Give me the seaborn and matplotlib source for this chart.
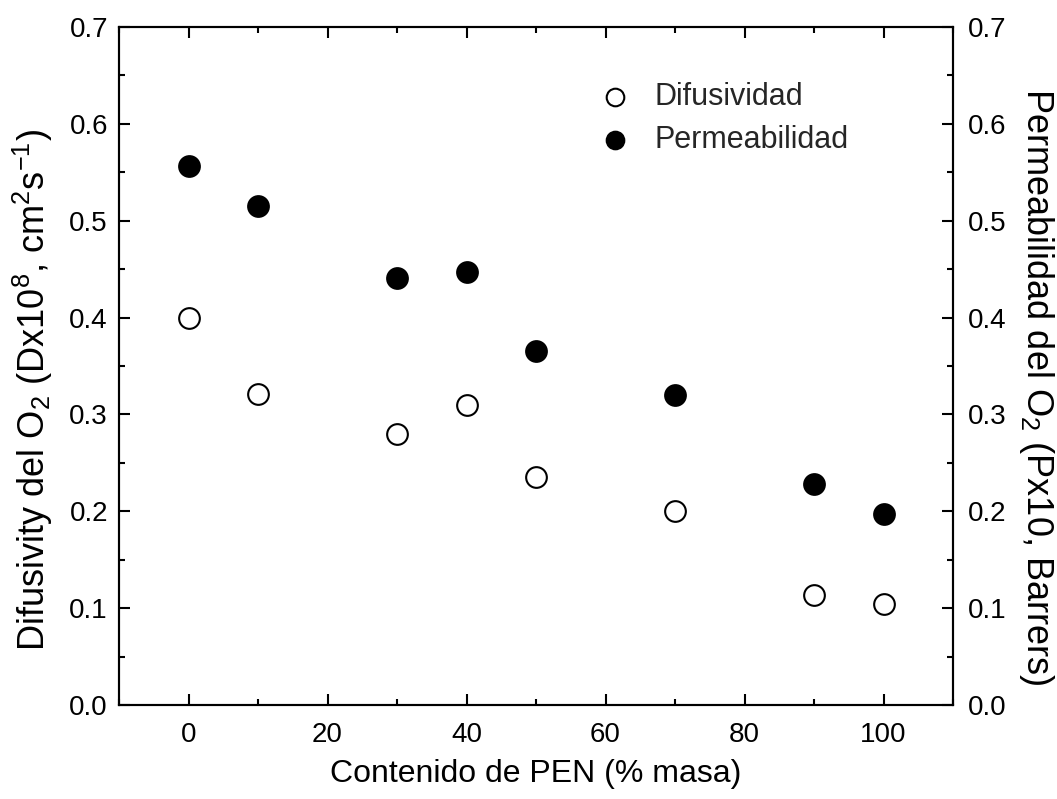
import matplotlib
matplotlib.use("Agg")
import matplotlib.pyplot as plt
import seaborn as sns
import pandas as pd
from matplotlib.ticker import MultipleLocator, FormatStrFormatter

pen_content = [0, 10, 30, 40, 50, 70, 90, 100]
difusividad = [0.40, 0.321, 0.28, 0.31, 0.235, 0.20, 0.114, 0.104]
permeabilidad = [0.556, 0.515, 0.441, 0.447, 0.365, 0.32, 0.228, 0.197]

sns.set_theme(style="ticks")
plt.rcParams['font.family'] = ['Liberation Sans', 'DejaVu Sans']
plt.rcParams['mathtext.fontset'] = 'custom'
plt.rcParams['mathtext.rm'] = 'Liberation Sans'
plt.rcParams['mathtext.it'] = 'Liberation Sans'

df = pd.DataFrame({"x": pen_content, "D": difusividad, "P": permeabilidad})

fig = plt.figure(figsize=(10.57, 7.99), dpi=100)
ax = fig.add_axes([119/1057, 1-705/799, (953-119)/1057, (705-27)/799])
ax2 = ax.twinx()

s = 222
sns.scatterplot(data=df, x="x", y="D", ax=ax, s=s, marker="o", facecolor="white",
                edgecolor="black", linewidth=1.5, label="Difusividad", legend=False)
sns.scatterplot(data=df, x="x", y="P", ax=ax2, s=s, marker="o", color="black",
                edgecolor="black", linewidth=1.5, label="Permeabilidad", legend=False)

tfs = 20
xfs = 23
yfs = 26
for a in (ax, ax2):
    a.set_xlim(-10, 110)
    a.set_ylim(0, 0.7)
    a.yaxis.set_major_locator(MultipleLocator(0.1))
    a.yaxis.set_minor_locator(MultipleLocator(0.05))
    a.xaxis.set_major_locator(MultipleLocator(20))
    a.xaxis.set_minor_locator(MultipleLocator(10))
    a.yaxis.set_major_formatter(FormatStrFormatter('%.1f'))
    for sp in a.spines.values():
        sp.set_linewidth(1.5)
        sp.set_color("black")

ax.tick_params(which="both", direction="in", top=True, right=False, colors="black",
               labelsize=tfs, width=1.5, pad=8)
ax.tick_params(axis="x", which="both", pad=12)
ax.tick_params(which="major", length=8)
ax.tick_params(which="minor", length=4)
ax2.tick_params(which="both", direction="in", right=True, labelright=True, colors="black",
                labelsize=tfs, width=1.5, pad=11)
ax2.tick_params(which="major", length=8)
ax2.tick_params(which="minor", length=4)

ax.set_xlabel("Contenido de PEN (% masa)", fontsize=xfs, color="black", labelpad=8)
ax.set_ylabel(r"Difusivity del O$_2$ (Dx10$^8$, cm$^2$s$^{-1}$)", fontsize=yfs, color="black", labelpad=10)
ax2.set_ylabel(r"Permeabilidad del O$_2$ (Px10, Barrers)", fontsize=yfs, color="black",
               rotation=-90, labelpad=35)
ax.yaxis.label.set_y(0.465)
ax2.yaxis.label.set_y(0.47)

h1, l1 = ax.get_legend_handles_labels()
h2, l2 = ax2.get_legend_handles_labels()
ax2.legend(h1 + h2, l1 + l2, loc="upper left", bbox_to_anchor=(0.525, 0.96), frameon=False,
           fontsize=22, handletextpad=0.3, labelspacing=0.45, markerscale=0.85)

fig.savefig("out.png", dpi=100)
